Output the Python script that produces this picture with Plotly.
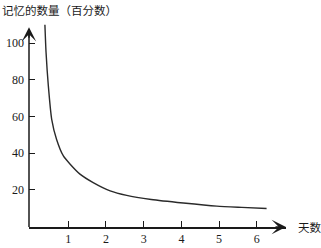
import plotly.graph_objects as go

# Data
days = [0.38, 0.41, 0.47, 0.56, 0.69, 0.87, 1.05, 1.31, 1.66, 2.11, 2.55, 3.2, 4.05, 4.94, 5.6, 6.26]
memory = [110, 95, 77, 58.5, 47.5, 38.5, 34, 28.6, 24, 19.5, 17.0, 14.8, 12.9, 11.2, 10.5, 9.9]
x_ticks = [1, 2, 3, 4, 5, 6]
y_ticks = [20, 40, 60, 80, 100]
title_text = "记忆的数量（百分数）"
x_label = "天数"

Y_TOP = 108.7
serif = "Liberation Serif"
cjk = "Noto Sans CJK SC"

fig = go.Figure()
fig.add_trace(go.Scatter(
    x=days, y=memory, mode="lines", line=dict(color="#2a2a2a", width=1.4, shape="spline", smoothing=0.6),
    hoverinfo="skip", showlegend=False, cliponaxis=False,
))

fig.update_layout(
    width=321, height=248,
    margin=dict(l=29, r=35, t=22, b=21, autoexpand=False),
    paper_bgcolor="white", plot_bgcolor="white",
    xaxis=dict(
        range=[-0.042, 6.775], showgrid=False, zeroline=False,
        showline=True, linecolor="#1a1a1a", linewidth=1.5,
        tickmode="array", tickvals=x_ticks, ticktext=[str(v) for v in x_ticks],
        ticks="inside", ticklen=6, tickwidth=1, tickcolor="#1a1a1a",
        tickfont=dict(family=serif, size=12, color="#1a1a1a"),
        ticklabelstandoff=0, automargin=False,
        fixedrange=True,
    ),
    yaxis=dict(
        range=[-0.2, 111.5], showgrid=False, zeroline=False, showline=False,
        tickmode="array", tickvals=y_ticks, ticktext=[str(v) for v in y_ticks],
        ticks="inside", ticklen=6, tickwidth=1, tickcolor="#1a1a1a",
        tickfont=dict(family=serif, size=12, color="#1a1a1a"),
        ticklabelstandoff=4, automargin=False,
        fixedrange=True,
    ),
    shapes=[
        dict(type="line", xref="paper", yref="y", x0=0, x1=0, y0=-0.2, y1=Y_TOP - 3,
             line=dict(color="#1a1a1a", width=1.5)),
    ],
    annotations=[
        dict(xref="paper", yref="y", x=0, y=Y_TOP, ax=0, ay=12, text="",
             showarrow=True, arrowhead=3, arrowsize=1.6, arrowwidth=1.5, arrowcolor="#1a1a1a"),
        dict(xref="paper", yref="paper", x=1, y=0, ax=-12, ay=0, text="",
             showarrow=True, arrowhead=3, arrowsize=1.6, arrowwidth=1.5, arrowcolor="#1a1a1a"),
        dict(xref="paper", yref="paper", x=(296 - 29) / 257, y=0, xanchor="left", yanchor="middle",
             text=x_label, showarrow=False, font=dict(family=cjk, size=11.5, color="#1a1a1a")),
        dict(xref="paper", yref="paper", x=-29 / 257, y=1 + 12 / 205, xanchor="left", yanchor="middle",
             text=title_text, showarrow=False, font=dict(family=cjk, size=11.5, color="#1a1a1a")),
    ],
)

fig.write_html("out.html")
